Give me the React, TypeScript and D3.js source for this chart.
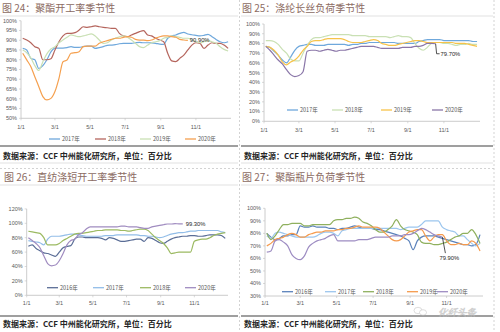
import React from 'react';
import * as d3 from 'd3';

const FONT = "'Liberation Sans', 'Noto Sans CJK SC', sans-serif";
const CJK = "'Noto Sans CJK SC', 'Noto Sans', sans-serif";

const xTickDays = [0, 59, 120, 181, 243, 304];
const xTickLabels = ['1/1', '3/1', '5/1', '7/1', '9/1', '11/1'];

// ---------- Panel 1: 聚酯开工率 ----------
const p1Names = ['2017年', '2018年', '2019年', '2020年'];
const p1Colors = ['#6fa8dc', '#b5655d', '#c9e0b4', '#f5a04f'];
const p1_2017 = [85.8, 85, 80.7, 80, 75.5, 77, 80, 84, 86, 86, 86, 86.2, 86.7, 86.3, 86.3, 86.7, 87, 87, 85.8, 86.2, 86.7, 87.4, 87.5, 87.7, 88.2, 88.4, 88.4, 88.4, 88.7, 88.9, 88.7, 88.7, 88.6, 88.4, 88, 87.9, 91, 92.2, 92.7, 93.5, 94, 93.2, 92.8, 92.5, 92.2, 92.5, 93, 91.8, 90.4, 89.2, 88.7, 89.2];
const p1_2018 = [91, 90.1, 88.7, 86.7, 85.8, 80, 80, 80.5, 85, 89.2, 92.2, 93.5, 93.5, 93.9, 95.2, 96.9, 96.6, 96.9, 97.3, 96.9, 96.6, 96.4, 96.1, 96.1, 93.5, 92.2, 91.8, 92.7, 93.5, 94.4, 94.9, 92.7, 92.2, 91, 90.1, 89.2, 83.3, 79.4, 79, 80.7, 82.4, 85, 87.5, 88.7, 88.4, 85.8, 87.5, 88.7, 88.4, 88.4, 87.5, 85.8];
const p1_2019 = [85, 83.6, 81, 77, 74.5, 79, 83, 85.5, 86.7, 88.7, 90.1, 91.5, 92.7, 92.2, 91.8, 92.2, 92.7, 93.2, 92.2, 90.1, 88.4, 88.7, 90.1, 91, 91.8, 92.2, 91.5, 90.1, 88.4, 86.7, 86.2, 87.5, 88.7, 89.2, 89.8, 91, 91.5, 92.2, 91.8, 91.5, 91, 91, 90.4, 89.2, 88.7, 89.2, 89.8, 89.2, 88.4, 86.7, 85.3, 84.5];
const p1_2020 = [83.3, 79.9, 76.5, 71.3, 66.2, 61.1, 59.4, 60.2, 63.7, 70.5, 79, 79.9, 83.3, 83.6, 84.1, 86.7, 87, 87, 87, 88.4, 89.2, 89.8, 90.4, 91, 91, 91.5, 91.8, 91.5, 90.4, 90.1, 90.1, 89.8, 90.1, 91, 91.8, 92.2, 92.2, 91.8, 91.5, 90.4, 90.1, 89.9];

// ---------- Panel 2: 涤纶长丝负荷 ----------
const p2Names = ['2017年', '2018年', '2019年', '2020年'];
const p2Colors = ['#6fa8dc', '#c9e0b4', '#f7c34a', '#8a76a8'];
const p2_2017 = [77, 76, 72, 68, 63, 60, 66, 73, 77, 78, 79, 79, 78, 78, 78, 79, 79, 79, 79, 79, 78, 79, 79, 80, 80, 81, 81, 81, 81, 81, 81, 81, 80, 80, 80, 80, 80, 82, 83, 84, 84, 84, 84, 83, 83, 83, 83, 83, 83, 83, 82, 82];
const p2_2018 = [83, 83, 82, 79, 74, 70, 64, 62, 62, 70, 78, 84, 86, 86, 87, 88, 89, 89, 89, 89, 89, 88, 88, 88, 88, 87, 87, 87, 87, 87, 86, 87, 88, 87, 87, 86, 80, 75, 73, 76, 80, 81, 81, 80, 80, 79, 78, 79, 79, 80, 79, 79];
const p2_2019 = [77, 76, 73, 68, 61, 58, 61, 63, 67, 73, 77, 82, 83, 83, 84, 85, 85, 85, 85, 84, 82, 81, 81, 81, 82, 83, 84, 83, 80, 79, 78, 78, 79, 80, 81, 82, 83, 83, 82, 81, 81, 81, 81, 81, 81, 81, 80, 80, 80, 79, 78, 77];
const p2_2020 = [77, 73, 68, 63, 59, 53, 48, 46, 47, 51, 72, 73, 73, 72, 73, 74, 73, 72, 73, 73, 74, 75, 76, 77, 77, 77, 77, 76, 75, 75, 75, 75, 75, 76, 76, 76, 77, 77, 78, 80, 80, 79.7];

// ---------- Panel 3: 直纺涤短开工率 ----------
const p3Names = ['2016年', '2017年', '2018年', '2020年'];
const p3Colors = ['#5a6d96', '#92bde8', '#9cba62', '#a08cc0'];
const p3_2016 = [68, 70, 65, 62, 59, 58, 56, 54, 60, 66, 68, 69, 78, 81, 81, 80, 80, 80, 80, 79, 77, 80, 79, 77, 75, 75, 76, 77, 78, 78, 75, 80, 79, 76, 73, 72, 75, 78, 80, 81, 82, 82, 83, 83, 82, 82, 83, 84, 84, 84, 83, 79];
const p3_2017 = [76, 75, 74, 73, 70, 78, 82, 82, 82, 83, 84, 85, 85, 84, 83, 82, 82, 82, 82, 82, 83, 83, 83, 84, 84, 84, 84, 84, 84, 83, 83, 82, 82, 81, 80, 81, 83, 85, 86, 87, 87, 88, 89, 89, 90, 90, 90, 90, 90, 90, 88, 87];
const p3_2018 = [89, 88, 87, 86, 80, 70, 70, 70, 72, 76, 79, 82, 85, 86, 86, 87, 88, 89, 90, 90, 91, 91, 91, 91, 90, 90, 89, 90, 91, 92, 92, 90, 85, 80, 76, 72, 66, 58, 59, 60, 60, 60, 60, 75, 77, 78, 78, 80, 83, 85, 86, 87];
const p3_2020 = [80, 76, 72, 66, 55, 44, 41, 42, 48, 58, 70, 76, 78, 84, 87, 92, 95, 95, 95, 95, 95, 95, 95, 95, 96, 96, 95, 95, 95, 94, 93, 93, 95, 96, 97, 98, 99, 99, 99.5, 99.3, 99.3];

// ---------- Panel 4: 聚酯瓶片负荷 ----------
const p4Names = ['2016年', '2017年', '2018年', '2019年', '2020年'];
const p4Colors = ['#5b82bb', '#9cc6ee', '#8fb05e', '#f59a4c', '#9d8cc2'];
const p4_2016 = [80, 77, 75, 76, 78, 78, 79, 79, 86, 85, 85, 86, 85, 85, 85, 84, 84, 83, 84, 84, 85, 86, 85, 84, 84, 84, 83, 83, 82, 81, 80, 79, 78, 76, 74, 67, 74, 77, 78, 78, 78, 77, 76, 75, 74, 73, 72, 71, 71, 70, 71, 79];
const p4_2017 = [78, 76, 80, 81, 80, 79, 78, 77, 77, 77, 77, 77, 78, 80, 81, 81, 80, 78, 82, 83, 84, 84, 84, 84, 84, 84, 84, 84, 84, 84, 84, 84, 83, 84, 85, 85, 85, 87, 90, 90, 90, 90, 85, 83, 82, 81, 78, 78, 75, 72, 70, 72];
const p4_2018 = [80, 75, 78, 83, 87, 87, 88, 88, 88, 86, 86, 87, 87, 87, 87, 87, 90, 91, 91, 92, 92, 93, 92, 89, 88, 86, 83, 81, 81, 83, 86, 91, 86, 83, 82, 81, 79, 73, 72, 72, 71, 71, 72, 73, 75, 77, 78, 80, 80, 83, 79, 72];
const p4_2019 = [70, 72, 75, 76, 77, 79, 80, 79, 77, 77, 79, 80, 81, 81, 82, 82, 82, 83, 83, 84, 84, 85, 86, 85, 85, 85, 85, 84, 81, 78, 75, 74, 75, 78, 81, 82, 83, 83, 78, 74, 77, 79, 79, 74, 71, 71, 72, 71, 71, 74, 72, 66];
const p4_2020 = [65, 66, 74, 75, 73, 70, 63, 60, 59, 62, 69, 72, 74, 75, 76, 78, 79, 74, 74, 74, 74, 74, 75, 75, 75, 76, 77, 77, 77, 77, 78, 78, 78, 79, 79, 80, 82, 84, 83, 81, 79, 78, 77];

const footerText = '数据来源：CCF 中州能化研究所，单位：百分比';

type Series = { name: string; color: string; values: number[] };
type LabelCfg = { series: number; text: string; leader: [number, number][] | null; tx: number; ty: number; anchor: string };

type PanelProps = {
  title: string; tx: number; ty: number;
  x0: number; x1: number; yTop: number; yBottom: number;
  yMin: number; yMax: number; yStep: number;
  xLabelY: number;
  series: Series[];
  legendY: number; legendXs: number[];
  label: LabelCfg;
};

function Panel(p: PanelProps) {
  const x = d3.scaleLinear().domain([0, 365]).range([p.x0, p.x1]);
  const y = d3.scaleLinear().domain([p.yMin, p.yMax]).range([p.yBottom, p.yTop]);
  const line = d3.line<number>().x((_, i) => x(3 + 7 * i)).y(v => y(v)).curve(d3.curveMonotoneX);
  const yTicks = d3.range(p.yMin, p.yMax + 0.001, p.yStep);
  const ls = p.series[p.label.series];
  const li = ls.values.length - 1;
  const ex = x(3 + 7 * li), ey = y(ls.values[li]);
  return (
    <g>
      <text x={p.tx} y={p.ty} fontFamily={CJK} fontSize={10} fill="#8c6b62">{p.title}</text>
      <line x1={p.x0} x2={p.x0} y1={p.yTop} y2={p.yBottom} stroke="#bfbfbf" strokeWidth={0.8} />
      <line x1={p.x0} x2={p.x1} y1={p.yBottom} y2={p.yBottom} stroke="#bfbfbf" strokeWidth={0.8} />
      {yTicks.map(t => (
        <g key={t}>
          <line x1={p.x0 - 2} x2={p.x0} y1={y(t)} y2={y(t)} stroke="#bfbfbf" strokeWidth={0.6} />
          <text x={p.x0 - 4} y={y(t)} dy="0.35em" textAnchor="end" fontFamily={FONT} fontSize={5.5} fill="#595959">{`${t}%`}</text>
        </g>
      ))}
      {xTickDays.map((d, i) => (
        <g key={d}>
          <line x1={x(d)} x2={x(d)} y1={p.yBottom} y2={p.yBottom + 2} stroke="#bfbfbf" strokeWidth={0.6} />
          <text x={x(d)} y={p.xLabelY} dy="0.35em" textAnchor="middle" fontFamily={FONT} fontSize={5.5} fill="#595959">{xTickLabels[i]}</text>
        </g>
      ))}
      {p.series.map(s => (
        <path key={s.name} d={line(s.values) || ''} fill="none" stroke={s.color} strokeWidth={1.2} />
      ))}
      {p.label.leader && (
        <polyline points={[[ex, ey], ...p.label.leader.map(([dx, dy]) => [ex + dx, ey + dy])].map(q => q.join(',')).join(' ')} fill="none" stroke="#262626" strokeWidth={0.8} />
      )}
      <text x={ex + p.label.tx} y={ey + p.label.ty} dy="0.35em" textAnchor={p.label.anchor} fontFamily={FONT} fontSize={5.8} fill="#262626">{p.label.text}</text>
      {p.series.map((s, i) => (
        <g key={'lg' + s.name}>
          <line x1={p.legendXs[i]} x2={p.legendXs[i] + 11} y1={p.legendY} y2={p.legendY} stroke={s.color} strokeWidth={1.3} />
          <text x={p.legendXs[i] + 13} y={p.legendY} dy="0.35em" fontFamily={CJK} fontSize={5.5} fill="#595959">{s.name}</text>
        </g>
      ))}
    </g>
  );
}

function mk(names: string[], colors: string[], vals: number[][]): Series[] {
  return names.map((n, i) => ({ name: n, color: colors[i], values: vals[i] }));
}

export default function App() {
  const s1 = mk(p1Names, p1Colors, [p1_2017, p1_2018, p1_2019, p1_2020]);
  const s2 = mk(p2Names, p2Colors, [p2_2017, p2_2018, p2_2019, p2_2020]);
  const s3 = mk(p3Names, p3Colors, [p3_2016, p3_2017, p3_2018, p3_2020]);
  const s4 = mk(p4Names, p4Colors, [p4_2016, p4_2017, p4_2018, p4_2019, p4_2020]);
  return (
    <svg width={500} height={332} style={{ position: 'absolute', left: 0, top: 0, background: '#fff' }}>
      <rect width={500} height={332} fill="#fff" />
      <line x1={239.5} x2={239.5} y1={0} y2={332} stroke="#c8c8c8" strokeWidth={0.8} strokeDasharray="2,2" />
      <line x1={494} x2={494} y1={0} y2={332} stroke="#c8c8c8" strokeWidth={0.8} strokeDasharray="2,2" />
      <line x1={0} x2={494} y1={168.5} y2={168.5} stroke="#c8c8c8" strokeWidth={0.8} strokeDasharray="2,2" />
      <line x1={0} x2={238} y1={16} y2={16} stroke="#d9d9d9" strokeWidth={0.8} />
      <line x1={241} x2={493} y1={16} y2={16} stroke="#d9d9d9" strokeWidth={0.8} />
      <line x1={0} x2={238} y1={185} y2={185} stroke="#d9d9d9" strokeWidth={0.8} />
      <line x1={241} x2={493} y1={185} y2={185} stroke="#d9d9d9" strokeWidth={0.8} />
      {[[0, 238, 146, 159], [241, 493, 146, 159], [0, 238, 316, 327], [241, 493, 316, 327]].map(([a, b, ly, ty], i) => (
        <g key={'f' + i}>
          <line x1={a} x2={b} y1={ly} y2={ly} stroke="#7f7f7f" strokeWidth={1.6} />
          <text x={a + 3} y={ty} fontFamily={CJK} fontSize={8} fontWeight="bold" fill="#262626">{footerText}</text>
        </g>
      ))}
      <line x1={0} x2={238} y1={163} y2={163} stroke="#d9d9d9" strokeWidth={0.8} />
      <line x1={241} x2={493} y1={163} y2={163} stroke="#d9d9d9" strokeWidth={0.8} />

      <Panel title="图 24：聚酯开工率季节性" tx={2} ty={12}
        x0={21} x1={231} yTop={20.7} yBottom={118.3} yMin={50} yMax={100} yStep={5}
        xLabelY={127} series={s1} legendY={139} legendXs={[49, 95, 140, 185]}
        label={{ series: 3, text: '90.90%', leader: null, tx: 2, ty: 0, anchor: 'start' }} />
      <Panel title="图 25：涤纶长丝负荷季节性" tx={242} ty={12}
        x0={264} x1={480} yTop={24} yBottom={121.3} yMin={0} yMax={100} yStep={10}
        xLabelY={130} series={s2} legendY={110} legendXs={[287, 332, 381, 432]}
        label={{ series: 3, text: '79.70%', leader: [[1, 10], [4, 10]], tx: 5, ty: 10, anchor: 'start' }} />
      <Panel title="图 26：直纺涤短开工率季节性" tx={4} ty={181}
        x0={26.7} x1={228} yTop={208.9} yBottom={295.3} yMin={0} yMax={120} yStep={20}
        xLabelY={302.7} series={s3} legendY={287.7} legendXs={[47, 93, 140, 185]}
        label={{ series: 3, text: '99.30%', leader: null, tx: 3, ty: 0, anchor: 'start' }} />
      <Panel title="图 27：聚酯瓶片负荷季节性" tx={242} ty={181}
        x0={265} x1={483} yTop={208.3} yBottom={296} yMin={30} yMax={100} yStep={10}
        xLabelY={302.7} series={s4} legendY={291.7} legendXs={[282, 325, 363, 407, 437]}
        label={{ series: 4, text: '79.90%', leader: [[3, 16]], tx: 7, ty: 21, anchor: 'middle' }} />

      <g opacity={0.6}>
        <ellipse cx={418} cy={310.5} rx={4} ry={3.2} fill="none" stroke="#b0b0b0" strokeWidth={0.7} />
        <ellipse cx={423} cy={312.5} rx={3.5} ry={2.8} fill="#fff" stroke="#b0b0b0" strokeWidth={0.7} />
        <text x={438} y={316} fontFamily={CJK} fontSize={9.5} fill="#fff" stroke="#b0b0b0" strokeWidth={0.6} fontStyle="italic">化纤头条</text>
      </g>
    </svg>
  );
}
